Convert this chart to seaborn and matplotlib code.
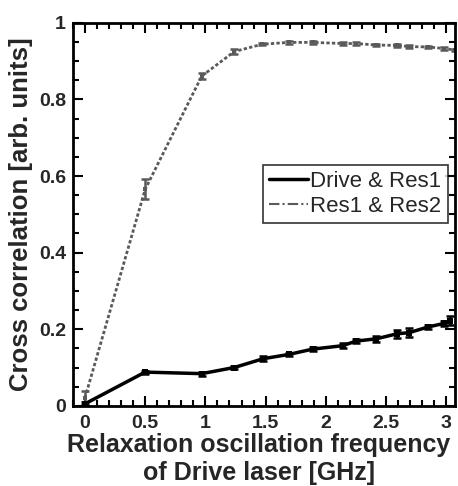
import numpy as np
import pandas as pd
import seaborn as sns
import matplotlib
matplotlib.use("Agg")
import matplotlib.pyplot as plt
from matplotlib.ticker import MultipleLocator
from matplotlib.lines import Line2D

# Drive & Res1
drive_x = [0.0, 0.5, 0.97, 1.24, 1.48, 1.69, 1.89, 2.14, 2.25, 2.42, 2.59, 2.69, 2.85, 2.98, 3.03]
drive_y = [0.005, 0.088, 0.084, 0.100, 0.123, 0.134, 0.148, 0.157, 0.169, 0.175, 0.188, 0.191, 0.206, 0.215, 0.222]
drive_err = [0.004, 0.004, 0.005, 0.005, 0.007, 0.005, 0.006, 0.006, 0.006, 0.008, 0.010, 0.011, 0.006, 0.006, 0.012]

# Res1 & Res2
res_x = [0.0, 0.5, 0.97, 1.24, 1.47, 1.69, 1.89, 2.14, 2.25, 2.42, 2.59, 2.69, 2.85, 2.98, 3.07]
res_y = [0.02, 0.565, 0.861, 0.925, 0.944, 0.949, 0.949, 0.946, 0.946, 0.942, 0.941, 0.938, 0.937, 0.933, 0.929]
res_err = [0.018, 0.026, 0.008, 0.006, 0.003, 0.003, 0.003, 0.003, 0.004, 0.003, 0.003, 0.003, 0.003, 0.003, 0.003]

labels = ["Drive & Res1", "Res1 & Res2"]
xtick_vals = [0, 0.5, 1, 1.5, 2, 2.5, 3]
xtick_labels = ["0", "0.5", "1", "1.5", "2", "2.5", "3"]
ytick_vals = [0, 0.2, 0.4, 0.6, 0.8, 1.0]
ytick_labels = ["0", "0.2", "0.4", "0.6", "0.8", "1"]

sns.set_style("ticks")
plt.rcParams['font.family'] = ['Liberation Sans', 'DejaVu Sans']

fig = plt.figure(figsize=(4.58, 4.86), dpi=100)
ax = fig.add_axes([0.159, 0.165, 0.834, 0.788])

df1 = pd.DataFrame({"x": drive_x, "y": drive_y})
df2 = pd.DataFrame({"x": res_x, "y": res_y})

gray = "#5a5a5a"
sns.lineplot(data=df2, x="x", y="y", ax=ax, color=gray, lw=2.0,
             linestyle=(0, (1.2, 0.8)), marker="s", markersize=3,
             markeredgewidth=0)
ax.errorbar(res_x, res_y, yerr=res_err, fmt="none", ecolor=gray, elinewidth=1.8,
            capsize=3, capthick=1.8)
sns.lineplot(data=df1, x="x", y="y", ax=ax, color="black", lw=2.5,
             marker="s", markersize=4, markeredgewidth=0)
ax.errorbar(drive_x, drive_y, yerr=drive_err, fmt="none", ecolor="black", elinewidth=1.8,
            capsize=3, capthick=1.8)

ax.set_xlim(-0.1, 3.07)
ax.set_ylim(0, 1.0)
ax.set_xticks(xtick_vals)
ax.set_xticklabels(xtick_labels)
ax.set_yticks(ytick_vals)
ax.set_yticklabels(ytick_labels)
ax.xaxis.set_minor_locator(MultipleLocator(0.1))
ax.yaxis.set_minor_locator(MultipleLocator(0.05))
ax.tick_params(which="both", direction="in", top=True, right=True, width=1.5, color="black")
ax.tick_params(which="major", length=7, labelsize=14, pad=5)
ax.tick_params(axis="x", which="major", pad=6.5)
ax.tick_params(which="minor", length=4)
for lab in ax.get_xticklabels() + ax.get_yticklabels():
    lab.set_fontweight("bold")
for s in ax.spines.values():
    s.set_linewidth(2.0)
    s.set_color("black")

ax.set_xlabel("Relaxation oscillation frequency\nof Drive laser [GHz]", fontsize=18,
              fontweight="bold", linespacing=1.2, labelpad=1)
ax.xaxis.label.set_x(0.487)
ax.set_ylabel("Cross correlation [arb. units]", fontsize=18.5, fontweight="bold", labelpad=4)

hd = [Line2D([], [], color="black", lw=2.5),
      Line2D([], [], color=gray, lw=1.5, linestyle=(0, (5, 1.5, 1, 1.5)))]
leg = ax.legend(hd, labels, loc="upper left", bbox_to_anchor=(0.497, 0.63),
                fontsize=16, frameon=True, fancybox=False, edgecolor="black",
                handlelength=1.75, handletextpad=0.1, borderpad=0.3, labelspacing=0.15,
                borderaxespad=0)
leg.get_frame().set_linewidth(1.2)

fig.savefig("out.png", dpi=100)
